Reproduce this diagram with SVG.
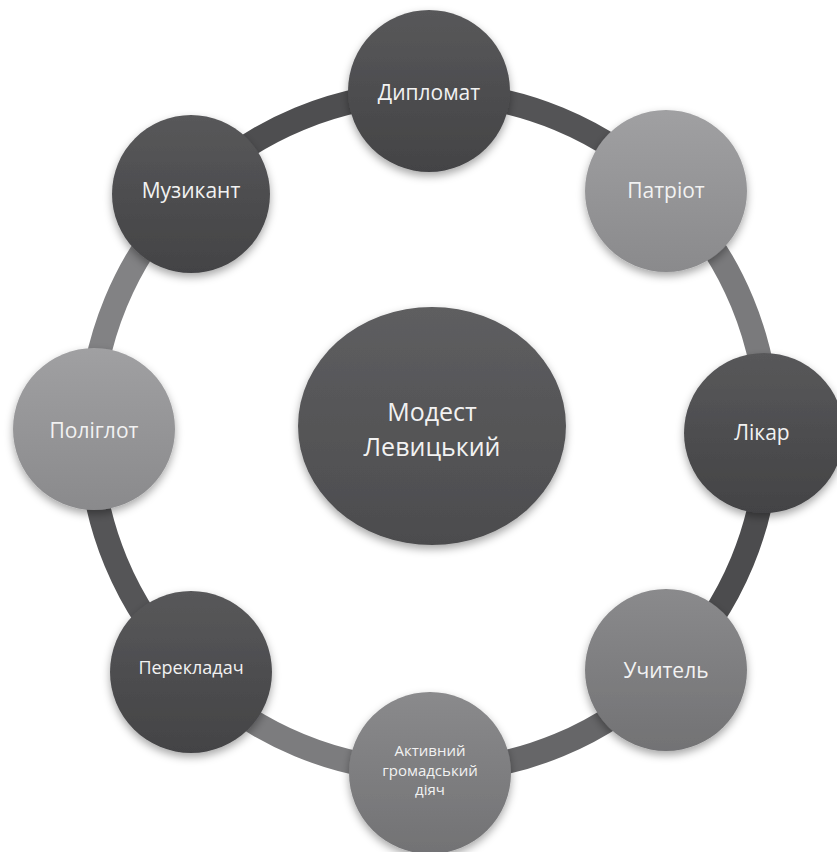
<svg xmlns="http://www.w3.org/2000/svg" width="837" height="852" viewBox="0 0 837 852">
<defs>
<filter id="sh" x="-30%" y="-30%" width="160%" height="170%">
<feDropShadow dx="0" dy="4" stdDeviation="4" flood-color="#000" flood-opacity="0.35"/>
</filter>
<linearGradient id="gDark" x1="0" y1="0" x2="0" y2="1">
<stop offset="0" stop-color="#58585a"/><stop offset="1" stop-color="#434345"/>
</linearGradient>
<linearGradient id="gLight" x1="0" y1="0" x2="0" y2="1">
<stop offset="0" stop-color="#a0a0a2"/><stop offset="1" stop-color="#8a8a8c"/>
</linearGradient>
<linearGradient id="gMid" x1="0" y1="0" x2="0" y2="1">
<stop offset="0" stop-color="#8a8a8c"/><stop offset="1" stop-color="#727274"/>
</linearGradient>
<linearGradient id="gCenter" x1="0" y1="0" x2="0" y2="1">
<stop offset="0" stop-color="#5e5e60"/><stop offset="1" stop-color="#4c4c4e"/>
</linearGradient>
</defs>
<style>
.seg{fill:none;stroke-width:24;}
.node{filter:url(#sh);}
.lbl{font-family:"Open Sans","Noto Sans","DejaVu Sans",sans-serif;fill:#f2f2f2;text-anchor:middle;dominant-baseline:central;font-size:21px;}
.small{font-size:15px;}
.big{font-size:25px;}
</style>
<rect width="837" height="852" fill="#ffffff"/>
<g id="connectors">
<path class="seg" stroke="#545456" d="M429,93 A339,339 0 0 1 668.7,192.3"/>
<path class="seg" stroke="#7a7a7c" d="M668.7,192.3 A339,339 0 0 1 768,432"/>
<path class="seg" stroke="#4c4c4e" d="M768,432 A339,339 0 0 1 668.7,671.7"/>
<path class="seg" stroke="#666668" d="M668.7,671.7 A339,339 0 0 1 429,771"/>
<path class="seg" stroke="#7c7c7e" d="M429,771 A339,339 0 0 1 189.3,671.7"/>
<path class="seg" stroke="#555557" d="M189.3,671.7 A339,339 0 0 1 90,432"/>
<path class="seg" stroke="#828284" d="M90,432 A339,339 0 0 1 189.3,192.3"/>
<path class="seg" stroke="#4e4e50" d="M189.3,192.3 A339,339 0 0 1 429,93"/>
</g>
<g id="center">
<ellipse class="node" cx="432" cy="426" rx="134" ry="119" fill="url(#gCenter)"/>
<text class="lbl big" x="432" y="411">Модест</text>
<text class="lbl big" x="432" y="446">Левицький</text>
</g>
<g id="n-diplomat">
<circle class="node" cx="429" cy="91" r="81" fill="url(#gDark)"/>
<text class="lbl" x="429" y="92">Дипломат</text>
</g>
<g id="n-patriot">
<circle class="node" cx="666" cy="191" r="81" fill="url(#gLight)"/>
<text class="lbl" x="666" y="190">Патріот</text>
</g>
<g id="n-likar">
<circle class="node" cx="764" cy="433" r="80" fill="url(#gDark)"/>
<text class="lbl" x="762" y="432">Лікар</text>
</g>
<g id="n-uchytel">
<circle class="node" cx="666" cy="670" r="81" fill="url(#gMid)"/>
<text class="lbl" x="666" y="670">Учитель</text>
</g>
<g id="n-aktyvnyi">
<circle class="node" cx="430" cy="773" r="81" fill="url(#gMid)"/>
<text class="lbl small" x="430" y="750">Активний</text>
<text class="lbl small" x="430" y="770">громадський</text>
<text class="lbl small" x="430" y="789">діяч</text>
</g>
<g id="n-perekladach">
<circle class="node" cx="191" cy="672" r="81" fill="url(#gDark)"/>
<text class="lbl" x="191" y="667" style="font-size:18px">Перекладач</text>
</g>
<g id="n-poliglot">
<circle class="node" cx="94" cy="429" r="81" fill="url(#gLight)"/>
<text class="lbl" x="94" y="430">Поліглот</text>
</g>
<g id="n-muzykant">
<circle class="node" cx="191" cy="194" r="79" fill="url(#gDark)"/>
<text class="lbl" x="191" y="190">Музикант</text>
</g>
</svg>
